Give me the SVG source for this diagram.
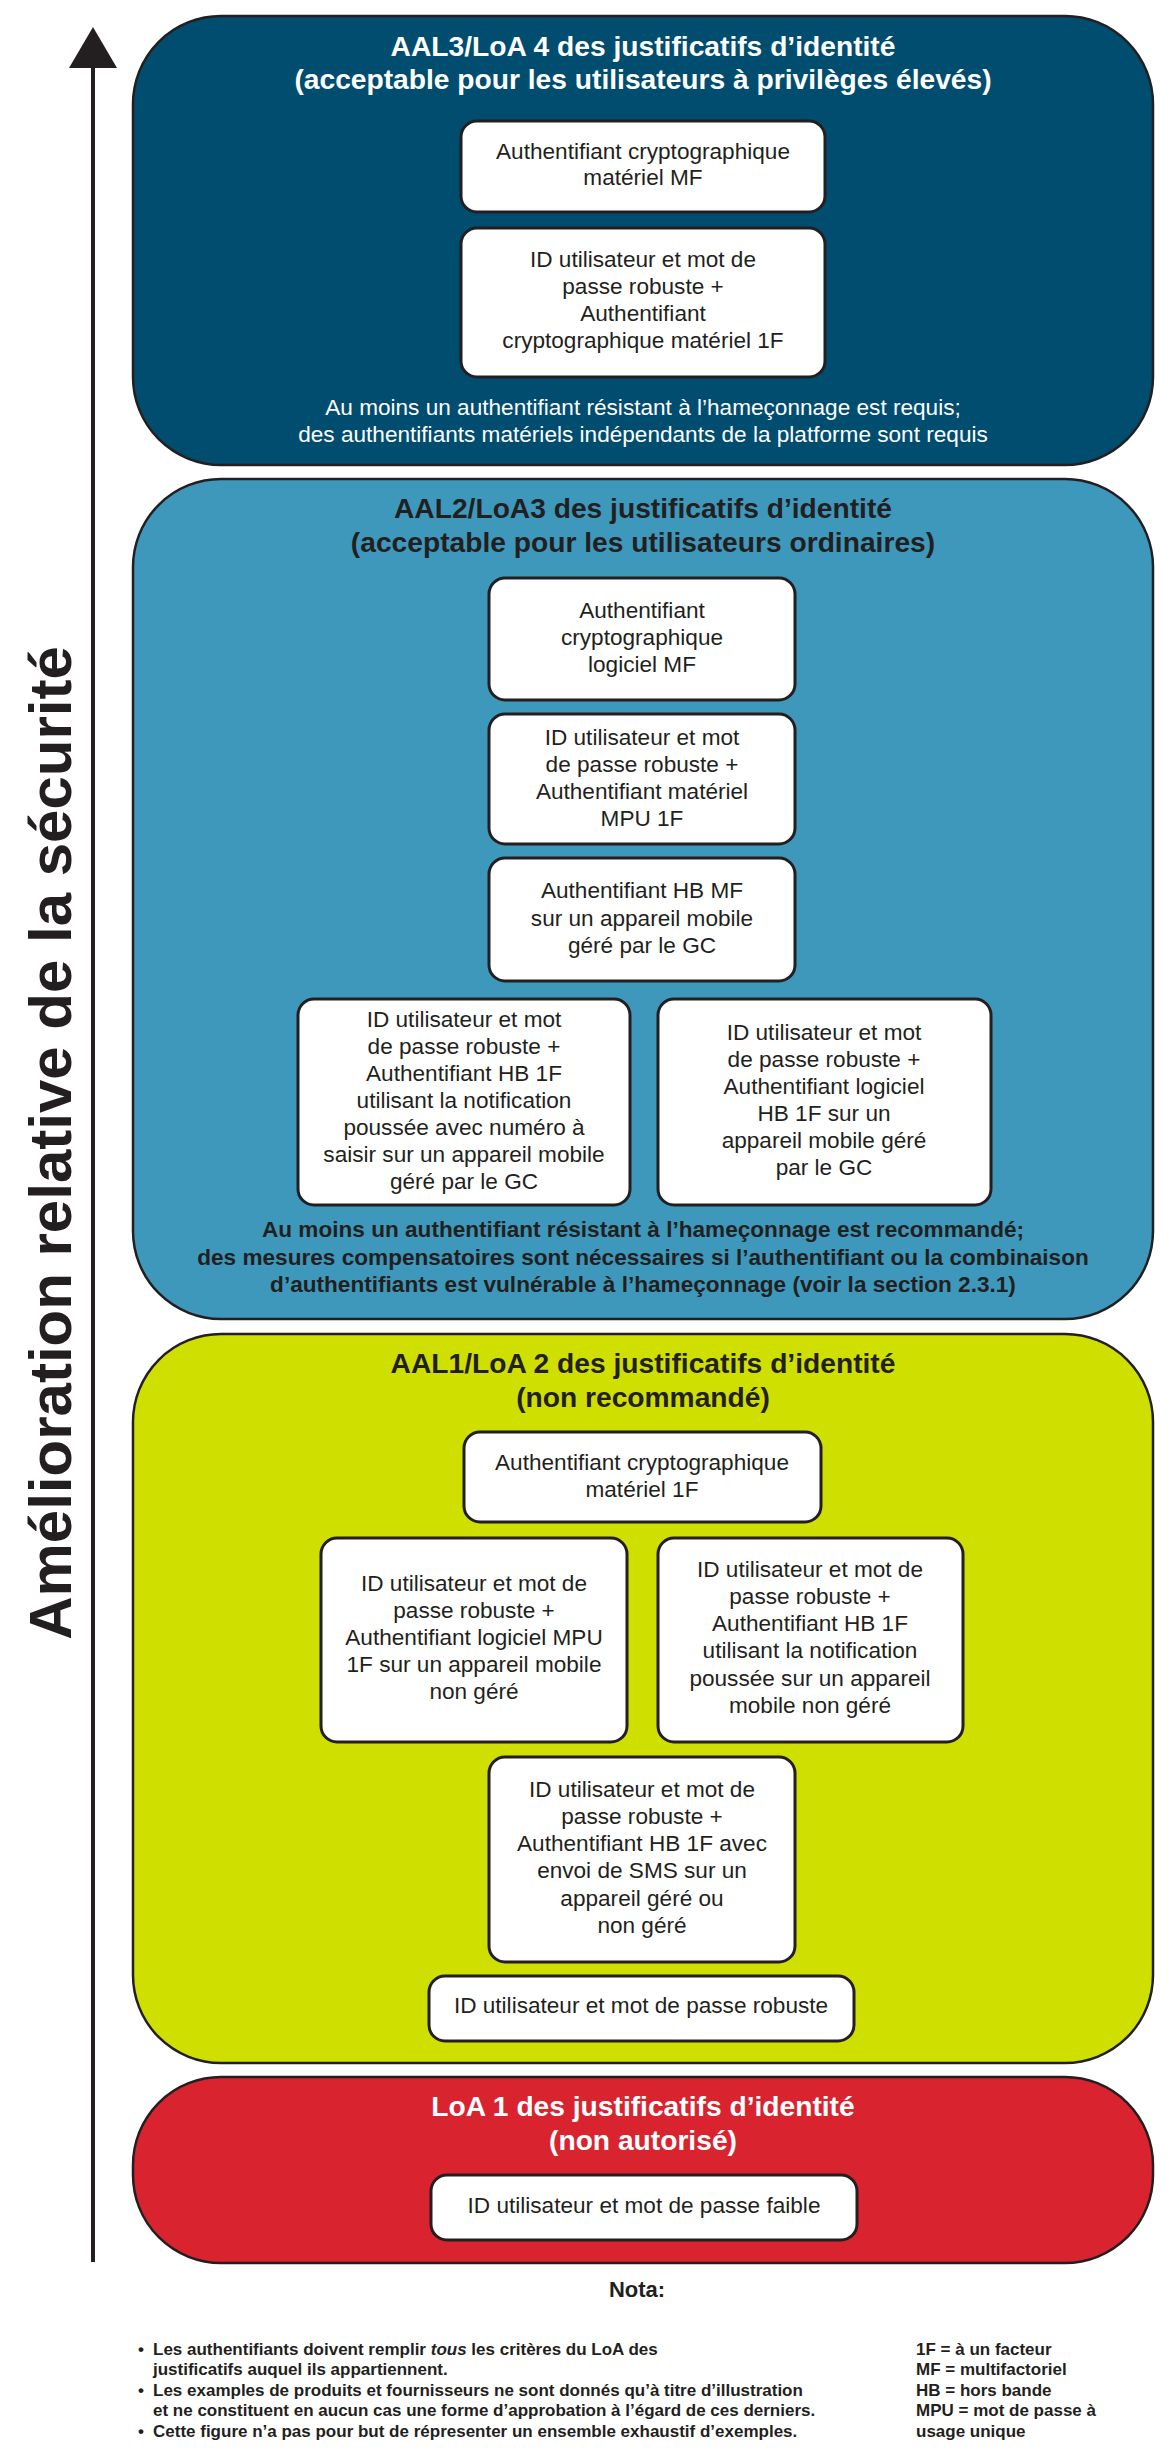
<svg xmlns="http://www.w3.org/2000/svg" width="1170" height="2459" viewBox="0 0 1170 2459">
<style>
.big{stroke:#231f20;stroke-width:2.5}
.box{fill:#ffffff;stroke:#231f20;stroke-width:3}
text{font-family:"Liberation Sans",Arial,Helvetica,sans-serif;fill:#231f20}
.t{font-size:22.6px;text-anchor:middle}
.h{font-size:28.2px;font-weight:bold;text-anchor:middle}
.bd{font-weight:bold}
.w{fill:#ffffff}
.n{font-size:17px;font-weight:bold}
</style>
<rect width="1170" height="2459" fill="#ffffff"/>

<g id="connectors">
  <line x1="93" y1="66" x2="93" y2="2262" stroke="#231f20" stroke-width="4"/>
  <polygon points="69,68 93,27 117,68" fill="#231f20"/>
</g>

<g id="axis-label">
  <text transform="translate(71,1143) rotate(-90)" x="0" y="0" style="font-size:60px;font-weight:bold;text-anchor:middle">Amélioration relative de la sécurité</text>
</g>

<g id="aal3">
  <rect class="big" x="133" y="16" width="1020" height="449" rx="88" ry="88" fill="#004d70"/>
  <text class="h w" x="643" y="56">AAL3/LoA 4 des justificatifs d’identité</text>
  <text class="h w" x="643" y="89">(acceptable pour les utilisateurs à privilèges élevés)</text>
  <text class="t w" x="643" y="415">Au moins un authentifiant résistant à l’hameçonnage est requis;</text>
  <text class="t w" x="643" y="442">des authentifiants matériels indépendants de la platforme sont requis</text>
</g>
<g id="aal3-b1">
  <rect class="box" x="461" y="121" width="364" height="91" rx="16"/>
  <text class="t" x="643" y="159">Authentifiant cryptographique</text>
  <text class="t" x="643" y="185">matériel MF</text>
</g>
<g id="aal3-b2">
  <rect class="box" x="461" y="228" width="364" height="149" rx="16"/>
  <text class="t" x="643" y="267">ID utilisateur et mot de</text>
  <text class="t" x="643" y="294">passe robuste +</text>
  <text class="t" x="643" y="321">Authentifiant</text>
  <text class="t" x="643" y="348">cryptographique matériel 1F</text>
</g>

<g id="aal2">
  <rect class="big" x="133" y="479" width="1020" height="840" rx="88" ry="88" fill="#3d98bb"/>
  <text class="h" x="643" y="518">AAL2/LoA3 des justificatifs d’identité</text>
  <text class="h" x="643" y="552">(acceptable pour les utilisateurs ordinaires)</text>
  <text class="t bd" x="643" y="1237">Au moins un authentifiant résistant à l’hameçonnage est recommandé;</text>
  <text class="t bd" x="643" y="1265">des mesures compensatoires sont nécessaires si l’authentifiant ou la combinaison</text>
  <text class="t bd" x="643" y="1292">d’authentifiants est vulnérable à l’hameçonnage (voir la section 2.3.1)</text>
</g>
<g id="aal2-b1">
  <rect class="box" x="489" y="578" width="306" height="122" rx="16"/>
  <text class="t" x="642" y="618">Authentifiant</text>
  <text class="t" x="642" y="645">cryptographique</text>
  <text class="t" x="642" y="672">logiciel MF</text>
</g>
<g id="aal2-b2">
  <rect class="box" x="489" y="714" width="306" height="130" rx="16"/>
  <text class="t" x="642" y="745">ID utilisateur et mot</text>
  <text class="t" x="642" y="772">de passe robuste +</text>
  <text class="t" x="642" y="799">Authentifiant matériel</text>
  <text class="t" x="642" y="826">MPU 1F</text>
</g>
<g id="aal2-b3">
  <rect class="box" x="489" y="858" width="306" height="123" rx="16"/>
  <text class="t" x="642" y="898">Authentifiant HB MF</text>
  <text class="t" x="642" y="926">sur un appareil mobile</text>
  <text class="t" x="642" y="953">géré par le GC</text>
</g>
<g id="aal2-b4">
  <rect class="box" x="298" y="999" width="332" height="206" rx="16"/>
  <text class="t" x="464" y="1027">ID utilisateur et mot</text>
  <text class="t" x="464" y="1054">de passe robuste +</text>
  <text class="t" x="464" y="1081">Authentifiant HB 1F</text>
  <text class="t" x="464" y="1108">utilisant la notification</text>
  <text class="t" x="464" y="1135">poussée avec numéro à</text>
  <text class="t" x="464" y="1162">saisir sur un appareil mobile</text>
  <text class="t" x="464" y="1189">géré par le GC</text>
</g>
<g id="aal2-b5">
  <rect class="box" x="658" y="999" width="333" height="206" rx="16"/>
  <text class="t" x="824" y="1040">ID utilisateur et mot</text>
  <text class="t" x="824" y="1067">de passe robuste +</text>
  <text class="t" x="824" y="1094">Authentifiant logiciel</text>
  <text class="t" x="824" y="1121">HB 1F sur un</text>
  <text class="t" x="824" y="1148">appareil mobile géré</text>
  <text class="t" x="824" y="1175">par le GC</text>
</g>

<g id="aal1">
  <rect class="big" x="133" y="1334" width="1020" height="729" rx="88" ry="88" fill="#cfe000"/>
  <text class="h" x="643" y="1373">AAL1/LoA 2 des justificatifs d’identité</text>
  <text class="h" x="643" y="1407">(non recommandé)</text>
</g>
<g id="aal1-b1">
  <rect class="box" x="464" y="1432" width="357" height="90" rx="16"/>
  <text class="t" x="642" y="1470">Authentifiant cryptographique</text>
  <text class="t" x="642" y="1497">matériel 1F</text>
</g>
<g id="aal1-b2">
  <rect class="box" x="321" y="1538" width="306" height="204" rx="16"/>
  <text class="t" x="474" y="1591">ID utilisateur et mot de</text>
  <text class="t" x="474" y="1618">passe robuste +</text>
  <text class="t" x="474" y="1645">Authentifiant logiciel MPU</text>
  <text class="t" x="474" y="1672">1F sur un appareil mobile</text>
  <text class="t" x="474" y="1699">non géré</text>
</g>
<g id="aal1-b3">
  <rect class="box" x="658" y="1538" width="305" height="204" rx="16"/>
  <text class="t" x="810" y="1577">ID utilisateur et mot de</text>
  <text class="t" x="810" y="1604">passe robuste +</text>
  <text class="t" x="810" y="1631">Authentifiant HB 1F</text>
  <text class="t" x="810" y="1658">utilisant la notification</text>
  <text class="t" x="810" y="1686">poussée sur un appareil</text>
  <text class="t" x="810" y="1713">mobile non géré</text>
</g>
<g id="aal1-b4">
  <rect class="box" x="489" y="1757" width="306" height="205" rx="16"/>
  <text class="t" x="642" y="1797">ID utilisateur et mot de</text>
  <text class="t" x="642" y="1824">passe robuste +</text>
  <text class="t" x="642" y="1851">Authentifiant HB 1F avec</text>
  <text class="t" x="642" y="1878">envoi de SMS sur un</text>
  <text class="t" x="642" y="1906">appareil géré ou</text>
  <text class="t" x="642" y="1933">non géré</text>
</g>
<g id="aal1-b5">
  <rect class="box" x="429" y="1976" width="425" height="65" rx="16"/>
  <text class="t" x="641" y="2013">ID utilisateur et mot de passe robuste</text>
</g>

<g id="loa1">
  <rect class="big" x="133" y="2077" width="1020" height="186" rx="88" ry="88" fill="#d9232f"/>
  <text class="h w" x="643" y="2116">LoA 1 des justificatifs d’identité</text>
  <text class="h w" x="643" y="2150">(non autorisé)</text>
</g>
<g id="loa1-b1">
  <rect class="box" x="431" y="2175" width="426" height="65" rx="16"/>
  <text class="t" x="644" y="2213">ID utilisateur et mot de passe faible</text>
</g>

<g id="notes">
  <text x="637" y="2297" style="font-size:22px;font-weight:bold;text-anchor:middle">Nota:</text>
  <text class="n" x="138" y="2355">•</text>
  <text class="n" x="153" y="2355">Les authentifiants doivent remplir <tspan font-style="italic">tous</tspan> les critères du LoA des</text>
  <text class="n" x="153" y="2375">justificatifs auquel ils appartiennent.</text>
  <text class="n" x="138" y="2396">•</text>
  <text class="n" x="153" y="2396">Les examples de produits et fournisseurs ne sont donnés qu’à titre d’illustration</text>
  <text class="n" x="153" y="2416">et ne constituent en aucun cas une forme d’approbation à l’égard de ces derniers.</text>
  <text class="n" x="138" y="2437">•</text>
  <text class="n" x="153" y="2437">Cette figure n’a pas pour but de répresenter un ensemble exhaustif d’exemples.</text>
  <text class="n" x="916" y="2355">1F = à un facteur</text>
  <text class="n" x="916" y="2375">MF = multifactoriel</text>
  <text class="n" x="916" y="2396">HB = hors bande</text>
  <text class="n" x="916" y="2416">MPU = mot de passe à</text>
  <text class="n" x="916" y="2437">usage unique</text>
</g>
</svg>
